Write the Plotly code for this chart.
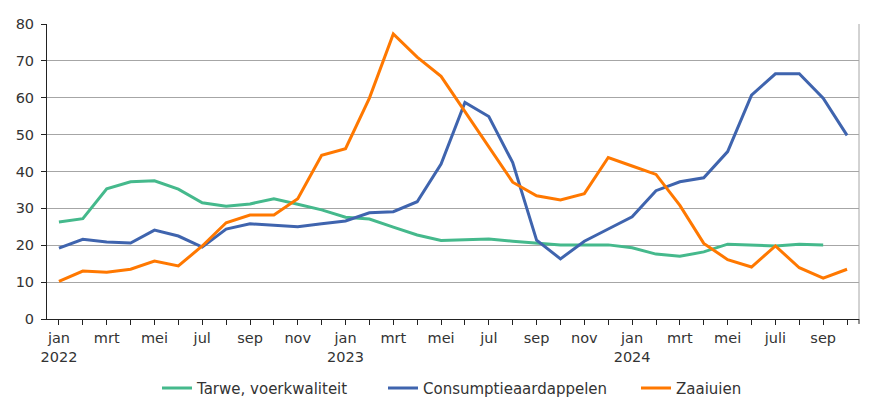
import plotly.graph_objects as go

months = ["jan", "feb", "mrt", "apr", "mei", "jun", "jul", "aug", "sep", "okt", "nov", "dec"] * 2 + \
         ["jan", "feb", "mrt", "apr", "mei", "jun", "juli", "aug", "sep", "okt"]
years = {0: "2022", 12: "2023", 24: "2024"}

tarwe = [26.3, 27.2, 35.3, 37.2, 37.5, 35.2, 31.5, 30.6, 31.2, 32.6, 31.1, 29.6,
         27.6, 27.1, 24.9, 22.8, 21.3, 21.4, 21.7, 21.1, 20.5, 20.1, 20.1, 20.1,
         19.3, 17.6, 17.0, 18.2, 20.3, 20.0, 19.8, 20.3, 20.1]
aardappelen = [19.2, 21.6, 20.9, 20.6, 24.1, 22.5, 19.5, 24.4, 25.8, 25.5, 25.0, 25.8,
               26.6, 28.8, 29.1, 31.8, 42.0, 58.7, 54.9, 42.4, 21.4, 16.3, 21.1, 24.4,
               27.7, 34.8, 37.2, 38.3, 45.4, 60.7, 66.5, 66.5, 59.9, 49.8]
zaaiuien = [10.2, 13.0, 12.7, 13.5, 15.7, 14.4, 19.8, 26.1, 28.2, 28.2, 32.6, 44.4,
            46.2, 59.9, 77.3, 71.0, 65.8, 56.2, 46.7, 37.1, 33.4, 32.3, 34.0, 43.8,
            41.5, 39.2, 30.8, 20.5, 16.1, 14.1, 19.8, 13.9, 11.1, 13.5]

series = [
    ("Tarwe, voerkwaliteit", tarwe, "#45B98C", "legend"),
    ("Consumptieaardappelen", aardappelen, "#3F64AE", "legend2"),
    ("Zaaiuien", zaaiuien, "#FF7800", "legend3"),
]

fig = go.Figure()
for name, vals, color, leg in series:
    fig.add_trace(go.Scatter(
        x=list(range(len(vals))), y=vals, name=name, mode="lines",
        line=dict(color=color, width=3), legend=leg,
    ))

tickvals = list(range(0, len(months), 2))
ticktext = [months[i] + ("<br>" + years[i] if i in years else "") for i in tickvals]

FS = 14.5
# page body has an 8px default margin; size figure so the plot area lands where intended
W, H, L, R, T, B = 878, 409, 39, 27, 16, 96
PW = W - L - R
PH = H - T - B


def legx(px):
    return (px - 8 - L) / PW


legfont = dict(size=15, color="#333333")
legcommon = dict(orientation="h", xanchor="left", y=-53 / PH, yanchor="top",
                 font=legfont, bgcolor="rgba(0,0,0,0)")

fig.update_layout(
    width=W, height=H,
    margin=dict(l=L, r=R, t=T, b=B),
    plot_bgcolor="white", paper_bgcolor="white",
    font=dict(family="DejaVu Sans", size=FS, color="#333333"),
    showlegend=True,
    legend=dict(x=legx(157), **legcommon),
    legend2=dict(x=legx(383), **legcommon),
    legend3=dict(x=legx(636), **legcommon),
    xaxis=dict(
        range=[-0.5, len(months) - 0.5], tickmode="array", tickvals=tickvals, ticktext=ticktext,
        showgrid=False, zeroline=False, showline=True, linecolor="#222222", linewidth=1,
        ticks="outside", ticklen=5, tickcolor="#222222", automargin=False,
        ticklabelstandoff=1,
        minor=dict(tickmode="linear", tick0=0, dtick=1, ticks="outside", ticklen=5,
                   tickcolor="#222222", showgrid=False),
    ),
    yaxis=dict(
        range=[0, 80], dtick=10, showgrid=True, gridcolor="#A6A6A6", gridwidth=1,
        zeroline=False, showline=True, linecolor="#222222", linewidth=1,
        ticks="outside", ticklen=5, tickcolor="#222222", automargin=False,
        ticklabelstandoff=4,
    ),
    shapes=[
        dict(type="line", xref="paper", yref="paper", x0=1, x1=1, y0=0, y1=1,
             line=dict(color="#A6A6A6", width=1)),
        dict(type="line", xref="paper", yref="paper", x0=1, x1=1, y0=0, y1=-5 / PH,
             line=dict(color="#222222", width=1)),
    ],
)

fig.write_html("out.html")
